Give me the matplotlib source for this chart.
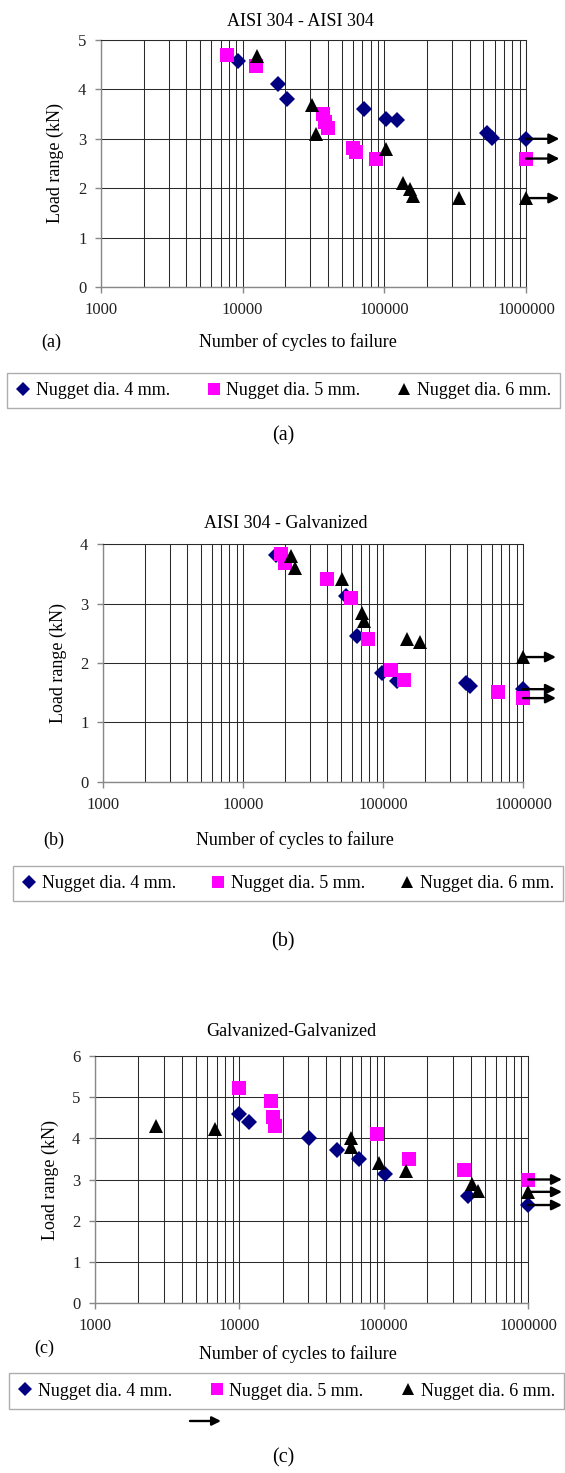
import matplotlib
matplotlib.use('Agg')
import matplotlib.pyplot as plt
from matplotlib.lines import Line2D
from matplotlib.ticker import FixedLocator, LogLocator, NullFormatter, FuncFormatter

plt.rcParams['font.family'] = ['Liberation Serif', 'DejaVu Serif']

W, H = 565, 1473

# (a) AISI 304 - AISI 304
a_d4_x = [9330, 17800, 20400, 71600, 103000, 122000, 528000, 572000, 1000000]
a_d4_y = [4.57, 4.10, 3.80, 3.61, 3.41, 3.38, 3.12, 3.02, 3.00]
a_d5_x = [7780, 12400, 36700, 38100, 39800, 59700, 63100, 88000, 1000000]
a_d5_y = [4.69, 4.48, 3.50, 3.35, 3.21, 2.81, 2.74, 2.60, 2.60]
a_d6_x = [12700, 31000, 32900, 103500, 136000, 152000, 160000, 337000, 1000000]
a_d6_y = [4.68, 3.68, 3.10, 2.80, 2.10, 1.98, 1.85, 1.80, 1.80]

# (b) AISI 304 - Galvanized
b_d4_x = [17100, 54300, 65600, 98200, 126000, 393000, 419000, 1000000]
b_d4_y = [3.82, 3.12, 2.46, 1.84, 1.70, 1.66, 1.62, 1.56]
b_d5_x = [18700, 19800, 39700, 59000, 77600, 115000, 142000, 661000, 1000000]
b_d5_y = [3.83, 3.68, 3.41, 3.10, 2.40, 1.89, 1.71, 1.52, 1.41]
b_d6_x = [22200, 23600, 50900, 71000, 73100, 149000, 183000, 1000000]
b_d6_y = [3.80, 3.59, 3.41, 2.84, 2.71, 2.40, 2.36, 2.10]

# (c) Galvanized-Galvanized
c_d4_x = [10000, 11600, 30400, 47700, 67000, 102000, 382000, 1000000]
c_d4_y = [4.60, 4.40, 4.00, 3.72, 3.50, 3.13, 2.60, 2.38]
c_d5_x = [10000, 16600, 17100, 17800, 89800, 150000, 361000, 1000000]
c_d5_y = [5.22, 4.90, 4.51, 4.30, 4.10, 3.50, 3.22, 3.00]
c_d6_x = [2650, 6770, 59400, 59400, 92300, 142000, 411000, 449000, 1000000]
c_d6_y = [4.30, 4.22, 4.00, 3.80, 3.40, 3.20, 2.88, 2.72, 2.70]

labels = ['Nugget dia. 4 mm.', 'Nugget dia. 5 mm.', 'Nugget dia. 6 mm.']
runout = 1000000

styles = [dict(marker='D', color='#000080', ms=8),
          dict(marker='s', color='#ff00ff', ms=10),
          dict(marker='^', color='black', ms=10)]


def fx(px):
    return px / W


def fy(py):
    return 1 - py / H


def panel(fig, box, ymax, series, title, title_xy, ylab_xy, xlab_xy, tag_xy, leg_box, cap, cap_y):
    l, r, t, b = box
    ax = fig.add_axes([fx(l), fy(b), (r - l) / W, (b - t) / H])
    for (xs, ys), st in zip(series, styles):
        ax.plot(xs, ys, linestyle='none', marker=st['marker'], color=st['color'],
                markersize=st['ms'], markeredgewidth=0, clip_on=False, zorder=3)
    # run-out arrows
    for xs, ys in series:
        for x, y in zip(xs, ys):
            if x >= runout:
                ax.annotate('', xy=(1.72e6, y), xytext=(x, y), annotation_clip=False,
                            arrowprops=dict(arrowstyle='-|>', color='black', lw=1.7,
                                            mutation_scale=15, shrinkA=0, shrinkB=0),
                            zorder=4)
    ax.set_xscale('log')
    ax.set_xlim(1000, 1000000)
    ax.set_ylim(0, ymax)
    ax.xaxis.set_major_locator(FixedLocator([1e3, 1e4, 1e5, 1e6]))
    ax.xaxis.set_major_formatter(FuncFormatter(lambda v, p: f'{int(round(v))}'))
    ax.xaxis.set_minor_locator(LogLocator(base=10, subs=range(2, 10)))
    ax.xaxis.set_minor_formatter(NullFormatter())
    ax.set_yticks(range(0, ymax + 1))
    ax.grid(which='both', axis='x', color='#2a2a2a', lw=0.75)
    ax.grid(which='major', axis='y', color='#2a2a2a', lw=0.75)
    ax.set_axisbelow(True)
    for s in ['top', 'right']:
        ax.spines[s].set_color('#2a2a2a')
        ax.spines[s].set_linewidth(0.75)
    for s in ['left', 'bottom']:
        ax.spines[s].set_color('#888888')
        ax.spines[s].set_linewidth(1.0)
    ax.tick_params(which='major', direction='out', length=4.5, width=1, color='#888888',
                   labelsize=12, labelcolor='#222222')
    ax.tick_params(axis='x', which='major', pad=6)
    ax.tick_params(axis='y', which='major', pad=6)
    ax.tick_params(which='minor', length=0)

    fig.text(fx(title_xy[0]), fy(title_xy[1]), title, ha='center', va='center', fontsize=13)
    fig.text(fx(ylab_xy[0]), fy(ylab_xy[1]), 'Load range (kN)', ha='center', va='center',
             rotation=90, fontsize=13)
    fig.text(fx(xlab_xy[0]), fy(xlab_xy[1]), 'Number of cycles to failure', ha='center',
             va='center', fontsize=13)
    fig.text(fx(tag_xy[0]), fy(tag_xy[1]), '(' + cap + ')', ha='center', va='center', fontsize=13)
    fig.text(fx(283), fy(cap_y), '(' + cap + ')', ha='center', va='center', fontsize=14.5)

    handles = [Line2D([], [], linestyle='none', marker=st['marker'], color=st['color'],
                      markersize=st['ms'] * 0.85, markeredgewidth=0) for st in styles]
    x0, x1, y0, y1 = leg_box
    leg = ax.legend(handles, labels, loc='center', ncol=3, mode='expand',
                    bbox_to_anchor=(fx(x0), fy(y1), (x1 - x0) / W, (y1 - y0) / H),
                    bbox_transform=fig.transFigure, fontsize=13, frameon=True,
                    fancybox=False, edgecolor='#999999', handlelength=0.8,
                    handletextpad=0.3, borderpad=0.5, borderaxespad=0)
    leg.get_frame().set_linewidth(1.0)
    return ax


fig = plt.figure(figsize=(W / 100, H / 100), dpi=100)

panel(fig, (101, 526, 40, 287), 5,
      [(a_d4_x, a_d4_y), (a_d5_x, a_d5_y), (a_d6_x, a_d6_y)],
      'AISI 304 - AISI 304', (300, 21), (55, 163), (298, 342), (51, 342),
      (7, 560, 369, 412), 'a', 436)

panel(fig, (103, 523, 544, 782), 4,
      [(b_d4_x, b_d4_y), (b_d5_x, b_d5_y), (b_d6_x, b_d6_y)],
      'AISI 304 - Galvanized', (286, 523), (58, 663), (295, 840), (54, 840),
      (13, 563, 863, 904), 'b', 942)

panel(fig, (95, 528, 1056, 1303), 6,
      [(c_d4_x, c_d4_y), (c_d5_x, c_d5_y), (c_d6_x, c_d6_y)],
      'Galvanized-Galvanized', (291, 1031), (50, 1180), (298, 1354), (44, 1348),
      (9, 564, 1370, 1412), 'c', 1458)

# stray arrow under the last legend
fig.add_artist(plt.Annotation('', xy=(fx(221), fy(1421)), xytext=(fx(190), fy(1421)),
                              xycoords='figure fraction', textcoords='figure fraction',
                              arrowprops=dict(arrowstyle='-|>', color='black', lw=1.7,
                                              mutation_scale=13, shrinkA=0, shrinkB=0)))

fig.savefig('out.png', dpi=100)
